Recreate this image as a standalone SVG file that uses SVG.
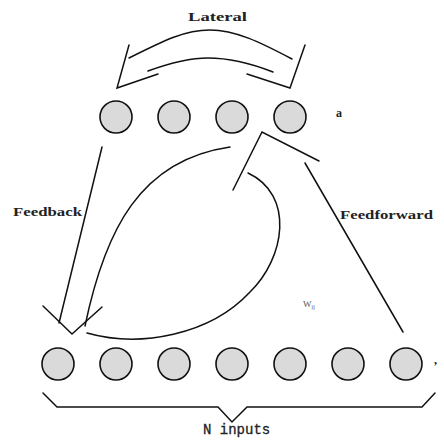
<svg xmlns="http://www.w3.org/2000/svg" width="444" height="440" viewBox="0 0 444 440">
<style>
.n{fill:#dadada;stroke:#111;stroke-width:1.6}
.c{fill:none;stroke:#111;stroke-width:1.5;stroke-linecap:round;stroke-linejoin:miter}
.t{font-family:"Liberation Serif",serif;font-weight:bold;font-size:12px;fill:#222}
.m{font-family:"Liberation Mono",monospace;font-size:14px;fill:#222;stroke:#222;stroke-width:0.3}
</style>
<rect width="444" height="440" fill="#fff"/>
<g id="top-nodes">
<g id="a1"><circle class="n" cx="116" cy="117" r="16"/></g>
<g id="a2"><circle class="n" cx="174" cy="117" r="16"/></g>
<g id="a3"><circle class="n" cx="232" cy="117" r="16"/></g>
<g id="a4"><circle class="n" cx="290" cy="117" r="16"/></g>
</g>
<g id="bottom-nodes">
<g id="x1"><circle class="n" cx="58" cy="364" r="16"/></g>
<g id="x2"><circle class="n" cx="116" cy="364" r="16"/></g>
<g id="x3"><circle class="n" cx="174" cy="364" r="16"/></g>
<g id="x4"><circle class="n" cx="232" cy="364" r="16"/></g>
<g id="x5"><circle class="n" cx="290" cy="364" r="16"/></g>
<g id="x6"><circle class="n" cx="348" cy="364" r="16"/></g>
<g id="x7"><circle class="n" cx="406" cy="364" r="16"/></g>
</g>
<g id="connectors">
<path class="c" d="M129,58 C165,40 185,30 210,30 C235,30 260,42 292,59"/>
<path class="c" d="M148,71 C170,63 190,58 208,58 C228,58 250,63 273,72"/>
<polyline class="c" points="129,45 117,88 158,74"/>
<polyline class="c" points="305,45 290,88 247,74"/>
<line class="c" x1="102" y1="147" x2="59" y2="323"/>
<path class="c" d="M230,147 C140,160 105,230 85,326"/>
<polyline class="c" points="43,306 72,334 102,307"/>
<path class="c" d="M87,333 C140,348 210,335 250,292 C285,258 295,195 248,173"/>
<polyline class="c" points="233,190 262,132 319,161"/>
<line class="c" x1="305" y1="163" x2="403" y2="332"/>
<polyline class="c" points="43,393 57,407 218,407 232,422 247,407 422,407 435,393"/>
</g>
<g id="labels">
<text class="t" x="188" y="21" textLength="59" lengthAdjust="spacingAndGlyphs">Lateral</text>
<text class="t" x="13" y="216" textLength="69" lengthAdjust="spacingAndGlyphs">Feedback</text>
<text class="t" x="340" y="219" textLength="93" lengthAdjust="spacingAndGlyphs">Feedforward</text>
<text class="t" x="336" y="117" font-size="11">a</text>
<text class="t" x="434" y="364">,</text>
<text x="303" y="307" font-family="Liberation Serif,serif" font-size="9" fill="#555">W<tspan font-size="6" dy="2">ij</tspan></text>
<text class="m" x="203" y="434">N inputs</text>
</g>
</svg>
